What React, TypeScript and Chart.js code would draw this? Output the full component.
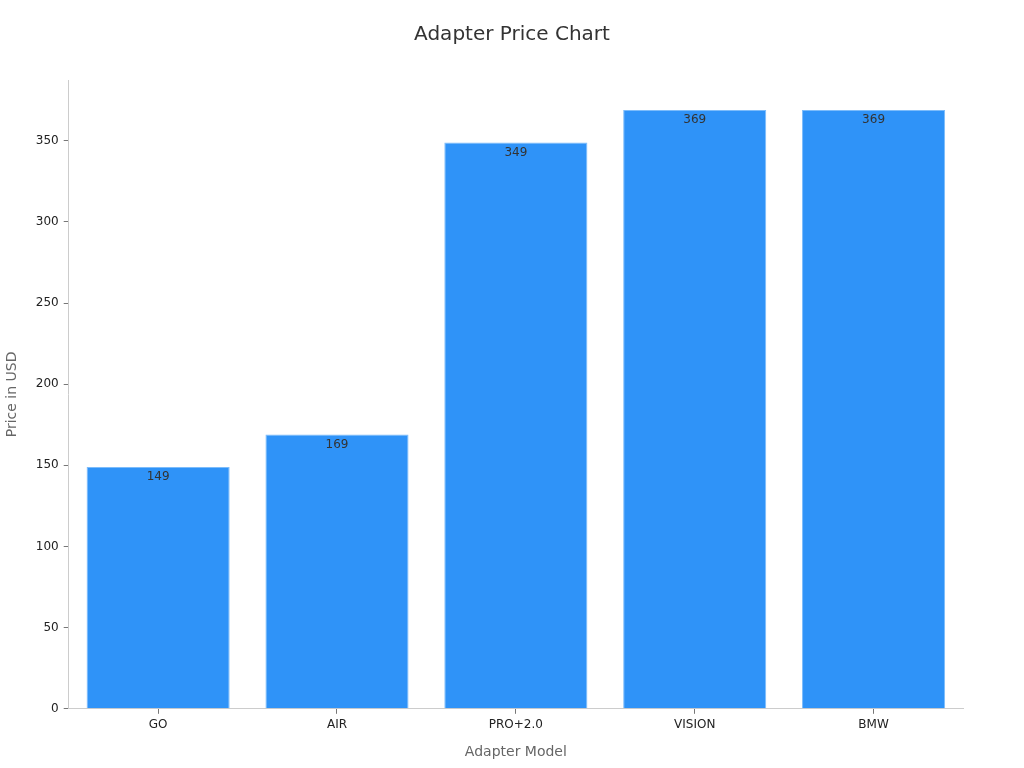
import React, { useEffect, useRef } from "react";
import { Chart, registerables, Plugin } from "chart.js";

Chart.register(...registerables);

const models = ["GO", "AIR", "PRO+2.0", "VISION", "BMW"];
const prices = [149, 169, 349, 369, 369];
const yTicks = [0, 50, 100, 150, 200, 250, 300, 350];

const FONT = "'DejaVu Sans', sans-serif";

// writes each value just inside the top of its bar
const valueLabels: Plugin<"bar"> = {
  id: "valueLabels",
  afterDatasetsDraw(chart) {
    const ctx = chart.ctx;
    const meta = chart.getDatasetMeta(0);
    ctx.save();
    ctx.font = `12px ${FONT}`;
    ctx.fillStyle = "#333333";
    ctx.textAlign = "center";
    ctx.textBaseline = "middle";
    meta.data.forEach((bar, i) => {
      const { x, y } = bar.getProps(["x", "y"], true) as { x: number; y: number };
      ctx.fillText(String(prices[i]), x, y + 10);
    });
    ctx.restore();
  },
};

// title centred on the whole canvas, not on the plot area
const pageTitle: Plugin<"bar"> = {
  id: "pageTitle",
  afterDraw(chart) {
    const ctx = chart.ctx;
    ctx.save();
    ctx.font = `20px ${FONT}`;
    ctx.fillStyle = "#333333";
    ctx.textAlign = "center";
    ctx.textBaseline = "middle";
    ctx.fillText("Adapter Price Chart", chart.width / 2, 35);
    ctx.restore();
  },
};

export default function App() {
  const chartRef = useRef<HTMLCanvasElement>(null);
  const chartInstance = useRef<Chart | null>(null);

  useEffect(() => {
    document.body.style.margin = "0";
    if (!chartRef.current) return;
    const ctx = chartRef.current.getContext("2d");
    if (!ctx) return;

    if (chartInstance.current) chartInstance.current.destroy();

    chartInstance.current = new Chart(ctx, {
      type: "bar",
      data: {
        labels: models,
        datasets: [
          {
            data: prices,
            backgroundColor: "#2f93f8",
            borderColor: "#7cbcfb",
            borderWidth: 1,
            categoryPercentage: 0.8,
            barPercentage: 1,
          },
        ],
      },
      options: {
        animation: false,
        responsive: true,
        maintainAspectRatio: false,
        layout: { padding: { left: 4, right: 61, top: 80, bottom: 7 } },
        plugins: {
          legend: { display: false },
          tooltip: { enabled: false },
          title: { display: false },
        },
        scales: {
          x: {
            grid: {
              display: true,
              offset: false,
              drawOnChartArea: false,
              drawTicks: true,
              tickLength: 5,
              color: "#777777",
            },
            border: { color: "#cccccc" },
            ticks: { color: "#222222", font: { family: FONT, size: 12 }, padding: 4 },
            title: {
              display: true,
              text: "Adapter Model",
              color: "#666666",
              font: { family: FONT, size: 14 },
              padding: { top: 8, bottom: 0 },
            },
          },
          y: {
            min: 0,
            max: 387.45,
            afterBuildTicks: (axis) => {
              axis.ticks = yTicks.map((v) => ({ value: v }));
            },
            grid: {
              display: true,
              drawOnChartArea: false,
              drawTicks: true,
              tickLength: 5,
              color: "#777777",
            },
            border: { color: "#cccccc" },
            ticks: { color: "#222222", font: { family: FONT, size: 12 }, padding: 5 },
            title: {
              display: true,
              text: "Price in USD",
              color: "#666666",
              font: { family: FONT, size: 14 },
              padding: { top: 0, bottom: 10 },
            },
          },
        },
      },
      plugins: [valueLabels, pageTitle],
    });

    return () => {
      if (chartInstance.current) {
        chartInstance.current.destroy();
        chartInstance.current = null;
      }
    };
  }, []);

  return (
    <div style={{ position: "relative", width: 1024, height: 768 }}>
      <canvas ref={chartRef} />
    </div>
  );
}
